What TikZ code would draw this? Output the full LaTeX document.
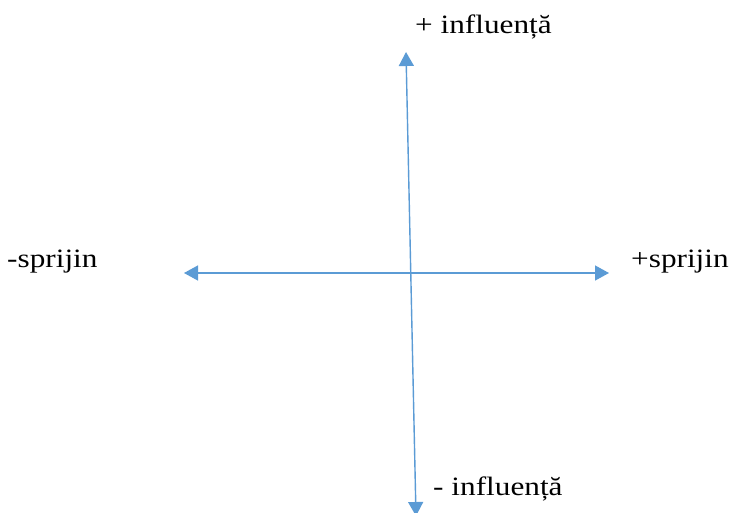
\documentclass[tikz,border=0pt]{standalone}
\usepackage{fontspec}
\setmainfont[FakeStretch=1.18]{Liberation Serif}
\usetikzlibrary{arrows.meta}
\definecolor{axisblue}{HTML}{5B9BD5}
\tikzset{
  axis/.style={draw=axisblue, line width=1.4pt, {Triangle[length=14pt,width=15pt]}-{Triangle[length=14pt,width=15pt]}},
  lbl/.style={anchor=base west, inner sep=0pt, font=\fontsize{26.5}{30}\selectfont}
}
\begin{document}
\begin{tikzpicture}[x=1pt,y=-1pt]
\useasboundingbox (0,0) rectangle (731,512);
\coordinate (top) at (406,52);
\coordinate (bot) at (416,516);
\coordinate (left) at (184,273);
\coordinate (right) at (609,273);
\begin{scope}
\clip (0,0) rectangle (731,512);
\draw[axis] (top) -- (bot);
\end{scope}
\draw[axis] (left) -- (right);
\node[lbl] (pinf) at (415,33) {+ influență};
\node[lbl] (minf) at (433,495) {- influență};
\node[lbl] (mspr) at (7,267) {-sprijin};
\node[lbl] (pspr) at (631,267) {+sprijin};
\end{tikzpicture}
\end{document}
